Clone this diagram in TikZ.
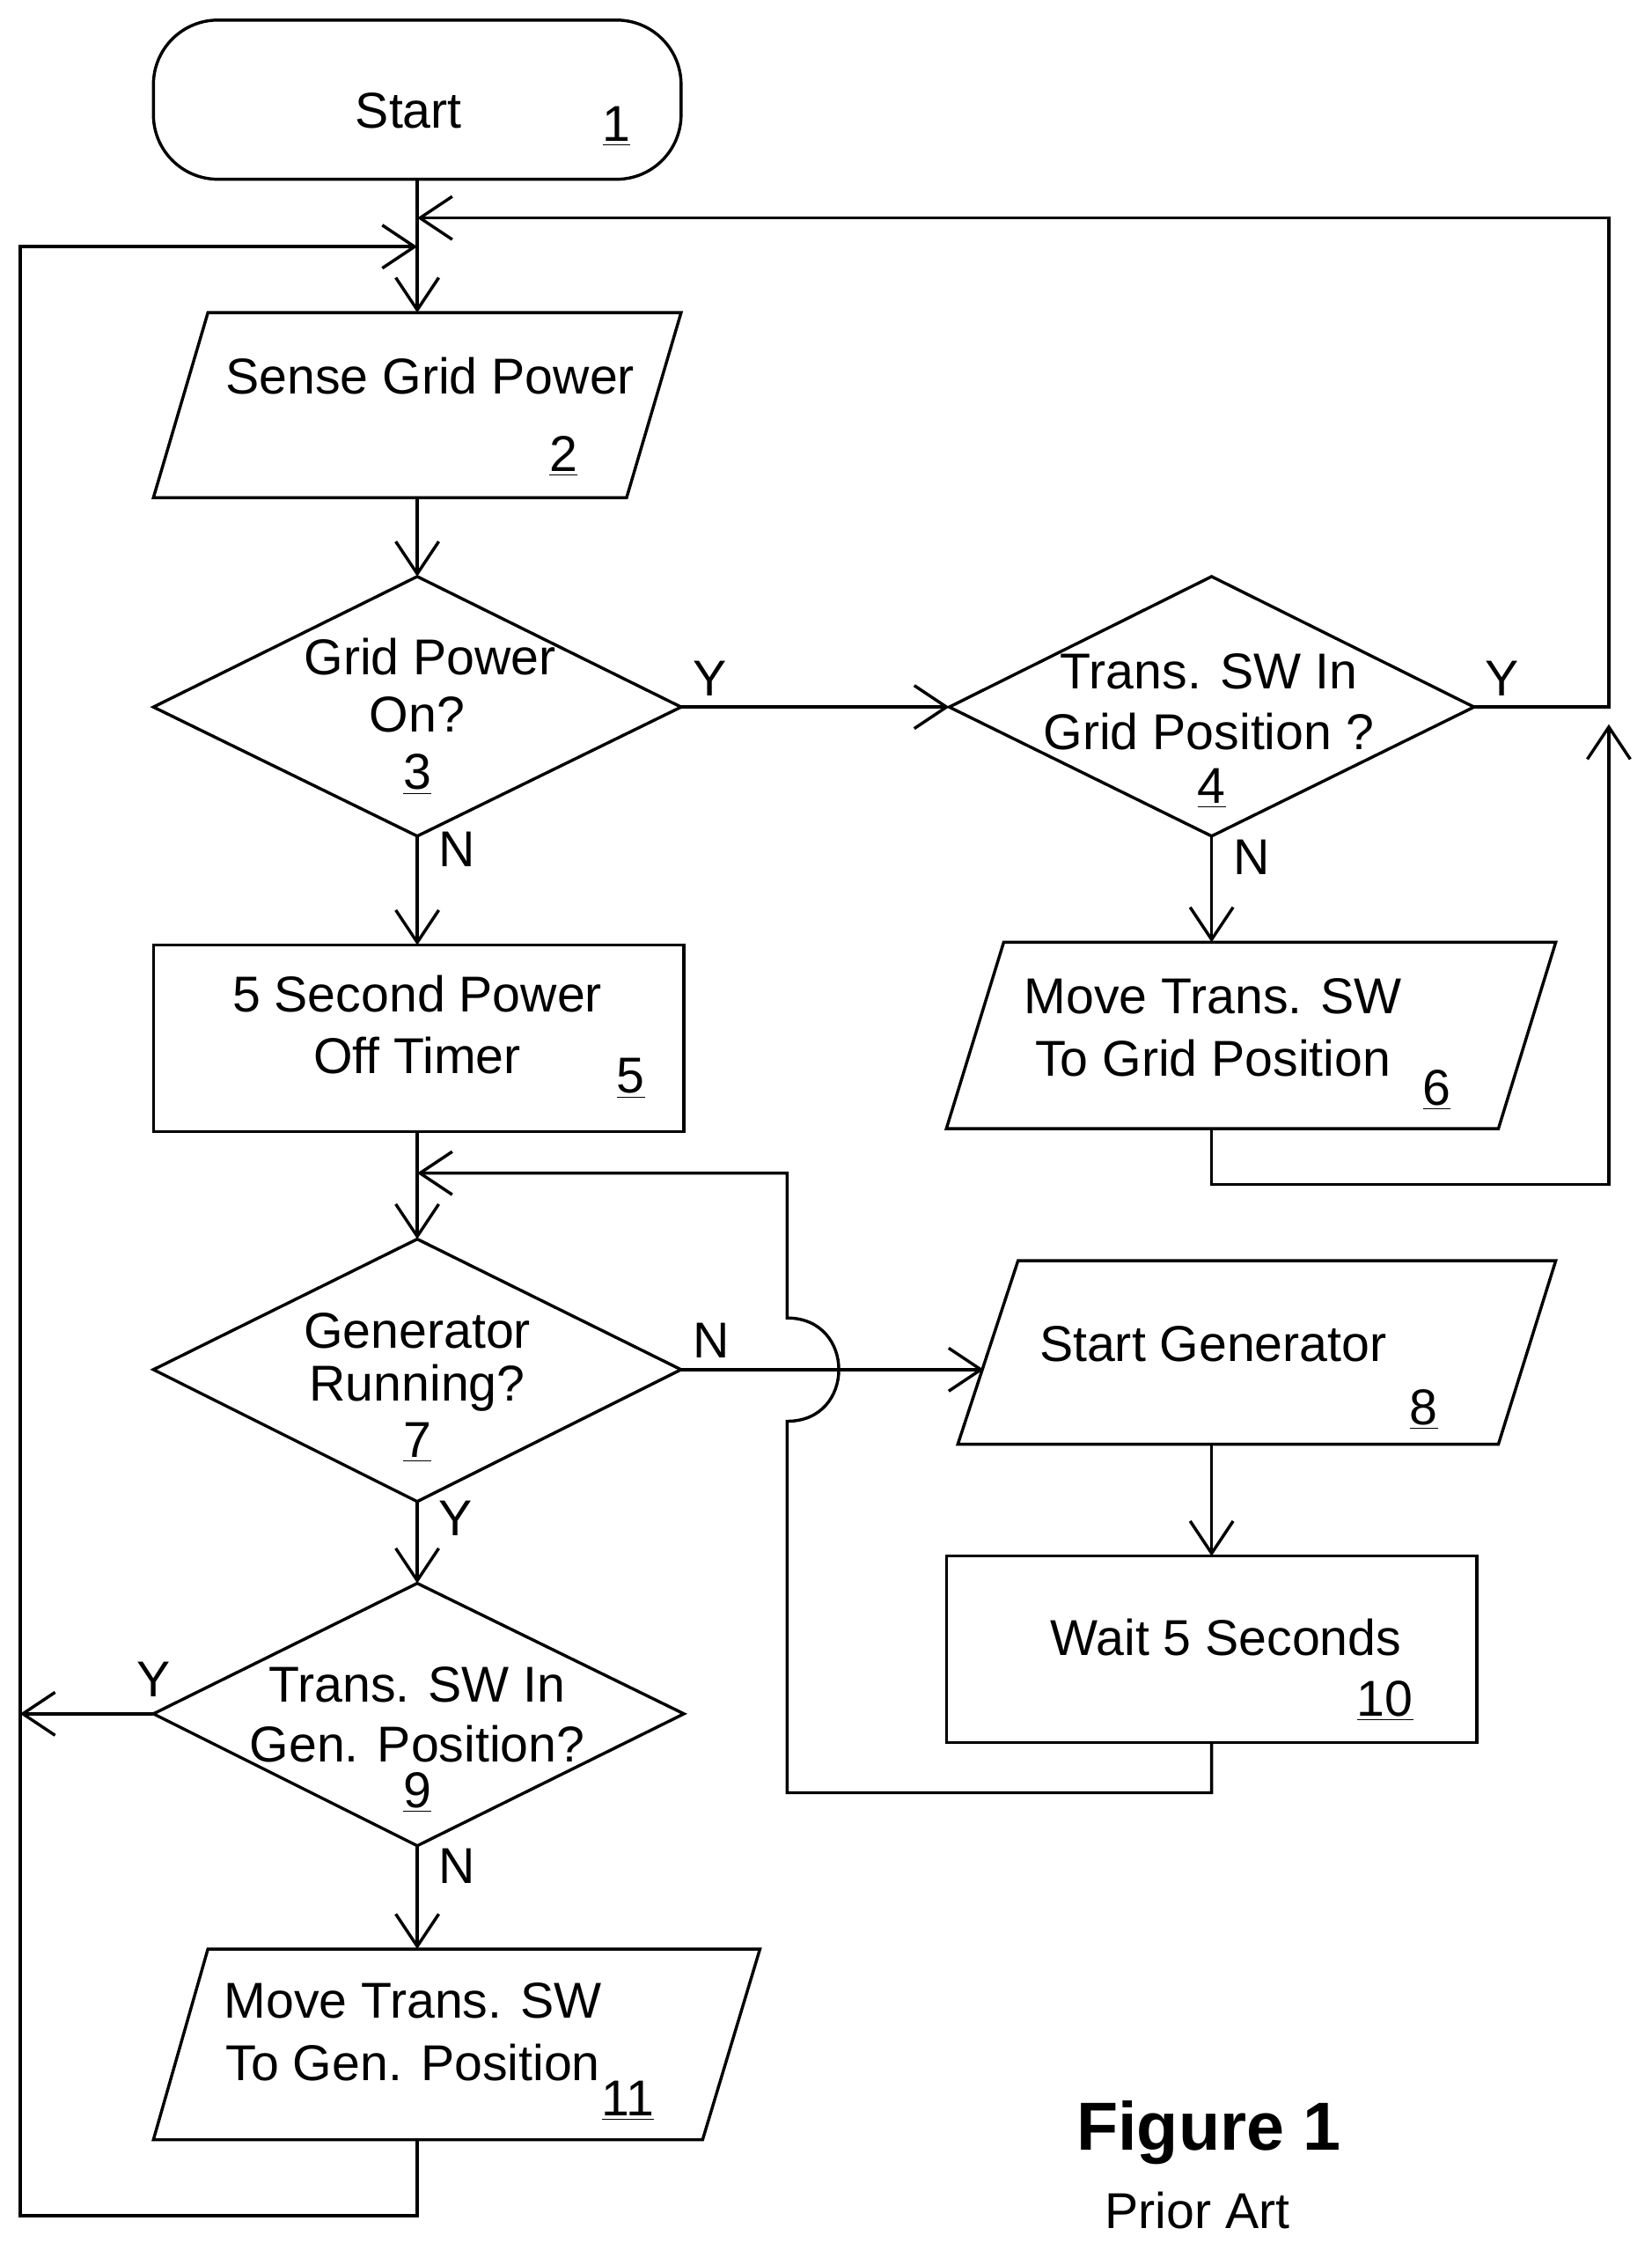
\documentclass[tikz,border=0pt]{standalone}
\usepackage{fontspec}
\setmainfont{Liberation Sans}
\usetikzlibrary{arrows.meta}
\begin{document}
\begin{tikzpicture}[x=0.02cm, y=-0.02cm, line width=1.2pt,
  every node/.style={font=\fontsize{20}{24}\selectfont, inner sep=0pt},
  flow/.style={-{Straight Barb[length=4.5mm,width=6mm,line width=1.2pt]}}]
  \useasboundingbox (0,0) rectangle (1152,1564);
	% blocks
	\draw[rounded corners=0.9cm] (107,14) rectangle (475,125);
	\node (Start) at (285,77) {Start};
	\node at (430,88) {\underline{1}};
	\coordinate (StartB) at (291,125);

	\draw (145,218) -- (475,218) -- (437,347) -- (107,347) -- cycle;
	\node at (300,262) {Sense Grid Power};
	\node at (393,318) {\underline{2}};
	\coordinate (SenseT) at (291,218);
	\coordinate (SenseB) at (291,347);

	\draw (107,493) -- (291,402) -- (475,493) -- (291,583) -- cycle;
	\node at (300,458) {Grid Power};
	\node at (291,498) {On?};
	\node at (291,540) {\underline{3}};
	\coordinate (GridT) at (291,402);
	\coordinate (GridR) at (475,493);
	\coordinate (GridB) at (291,583);

	\draw (662,493) -- (845,402) -- (1028,493) -- (845,583) -- cycle;
	\node at (843,468) {Trans. SW In};
	\node at (843,510) {Grid Position ?};
	\node at (845,550) {\underline{4}};
	\coordinate (SwGridL) at (662,493);
	\coordinate (SwGridR) at (1028,493);
	\coordinate (SwGridB) at (845,583);

	\draw (107,659) rectangle (477,789);
	\node at (291,693) {5 Second Power};
	\node at (291,736) {Off Timer};
	\node at (440,752) {\underline{5}};
	\coordinate (TimerT) at (291,659);
	\coordinate (TimerB) at (291,789);

	\draw (700,657) -- (1085,657) -- (1045,787) -- (660,787) -- cycle;
	\node at (846,695) {Move Trans. SW};
	\node at (846,738) {To Grid Position};
	\node at (1002,760) {\underline{6}};
	\coordinate (ToGridT) at (845,657);
	\coordinate (ToGridB) at (845,787);

	\draw (107,955) -- (291,864) -- (475,955) -- (291,1047) -- cycle;
	\node at (291,928) {Generator};
	\node at (291,968) {Running?};
	\node at (291,1006) {\underline{7}};
	\coordinate (GenT) at (291,864);
	\coordinate (GenR) at (475,955);
	\coordinate (GenB) at (291,1047);

	\draw (710,879) -- (1085,879) -- (1045,1007) -- (668,1007) -- cycle;
	\node at (846,937) {Start Generator};
	\node at (993,983) {\underline{8}};
	\coordinate (StartGenL) at (686,955);
	\coordinate (StartGenB) at (845,1007);

	\draw (660,1085) rectangle (1030,1215);
	\node at (855,1142) {Wait 5 Seconds};
	\node at (966,1186) {\underline{10}};
	\coordinate (WaitT) at (845,1085);
	\coordinate (WaitB) at (845,1215);

	\draw (107,1195) -- (291,1104) -- (477,1195) -- (291,1287) -- cycle;
	\node at (291,1175) {Trans. SW In};
	\node at (291,1216) {Gen. Position?};
	\node at (291,1250) {\underline{9}};
	\coordinate (SwGenT) at (291,1104);
	\coordinate (SwGenL) at (107,1195);
	\coordinate (SwGenB) at (291,1287);

	\draw (145,1359) -- (530,1359) -- (490,1492) -- (107,1492) -- cycle;
	\node at (288,1395) {Move Trans. SW};
	\node at (288,1438) {To Gen. Position};
	\node at (438,1465) {\underline{11}};
	\coordinate (ToGenT) at (291,1359);
	\coordinate (ToGenB) at (291,1492);

	\node[font=\fontsize{27}{30}\selectfont\bfseries] (Fig) at (843,1487) {Figure 1};
	\node (Prior) at (835,1541) {Prior Art};

	% connectors
	\coordinate (TopJ) at (291,152);
	\coordinate (LeftJ) at (291,172);
	\coordinate (MidJ) at (291,818);
	\draw[flow] (StartB) -- (SenseT);
	\draw[flow] (SenseB) -- (GridT);
	\draw[flow] (GridR) -- node[above right=4pt, pos=0] {Y} (SwGridL);
	\draw[flow] (GridB) -- node[right=8pt, pos=0.12] {N} (TimerT);
	\draw[flow] (SwGridB) -- node[right=8pt, pos=0.2] {N} (ToGridT);
	\draw[flow] (SwGridR) -- node[above right=4pt, pos=0] {Y} (1122,493) -- (1122,152) -- (TopJ);
	\draw[flow] (ToGridB) -- (845,826) -- (1122,826) -- (1122,505);
	\draw[flow] (TimerB) -- (GenT);
	\draw[flow] (GenR) -- node[above right=4pt, pos=0] {N} (StartGenL);
	\draw[flow] (StartGenB) -- (WaitT);
	\draw[flow] (WaitB) -- (845,1250) -- (549,1250) -- (549,991)
	  .. controls (597,991) and (597,919) .. (549,919) -- (549,818) -- (MidJ);
	\draw[flow] (GenB) -- node[right=8pt, pos=0.2] {Y} (SwGenT);
	\draw[flow] (SwGenB) -- node[right=8pt, pos=0.2] {N} (ToGenT);
	\draw[flow] (SwGenL) -- node[above=6pt, pos=0] {Y} (14,1195);
	\draw[flow] (ToGenB) -- (291,1545) -- (14,1545) -- (14,172) -- (LeftJ);
\end{tikzpicture}
\end{document}
